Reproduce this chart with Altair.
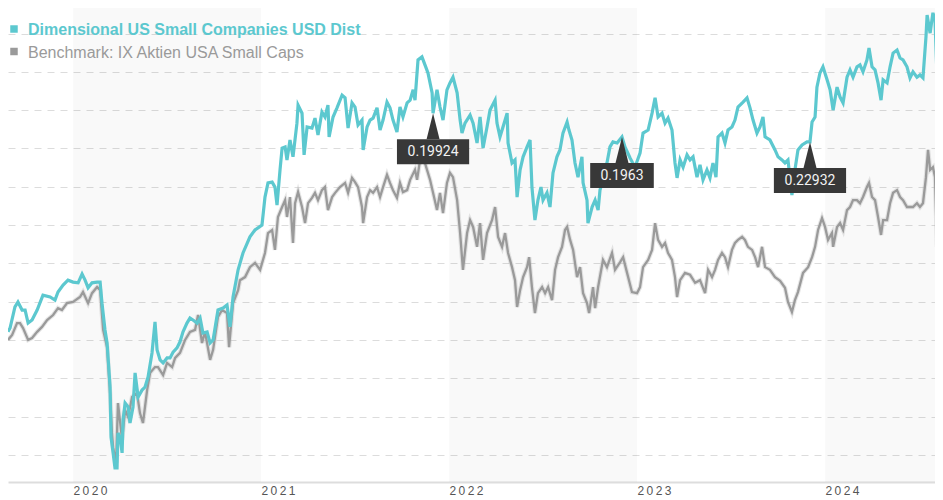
import altair as alt
import pandas as pd

fund_name = "Dimensional US Small Companies USD Dist"
bench_name = "Benchmark: IX Aktien USA Small Caps"
series_names = [fund_name, bench_name]
series_colors = ["#5cc8cf", "#9a9a9a"]

fund_t = [
    2019.654, 2019.665, 2019.691, 2019.707, 2019.729, 2019.745, 2019.761, 2019.782, 2019.809, 2019.840,
    2019.878, 2019.904, 2019.920, 2019.947, 2019.973, 2020.000, 2020.027, 2020.048, 2020.064, 2020.080,
    2020.101, 2020.128, 2020.144, 2020.154, 2020.170, 2020.181, 2020.197, 2020.202, 2020.213, 2020.223,
    2020.234, 2020.239, 2020.250, 2020.261, 2020.266, 2020.277, 2020.293, 2020.303, 2020.319, 2020.330,
    2020.346, 2020.367, 2020.383, 2020.399, 2020.420, 2020.436, 2020.447, 2020.463, 2020.479, 2020.500,
    2020.516, 2020.532, 2020.553, 2020.569, 2020.585, 2020.606, 2020.622, 2020.638, 2020.660, 2020.676,
    2020.691, 2020.713, 2020.729, 2020.745, 2020.771, 2020.798, 2020.819, 2020.835, 2020.851, 2020.878,
    2020.904, 2020.941, 2020.968, 2021.005, 2021.021, 2021.037, 2021.059, 2021.074, 2021.085, 2021.101,
    2021.112, 2021.128, 2021.138, 2021.154, 2021.170, 2021.191, 2021.197, 2021.218, 2021.229, 2021.245,
    2021.271, 2021.287, 2021.303, 2021.324, 2021.340, 2021.356, 2021.362, 2021.383, 2021.404, 2021.431,
    2021.447, 2021.463, 2021.484, 2021.500, 2021.516, 2021.537, 2021.543, 2021.564, 2021.580, 2021.596,
    2021.617, 2021.633, 2021.649, 2021.670, 2021.686, 2021.702, 2021.723, 2021.739, 2021.755, 2021.777,
    2021.793, 2021.809, 2021.819, 2021.835, 2021.856, 2021.872, 2021.888, 2021.910, 2021.915, 2021.936,
    2021.952, 2021.968, 2021.989, 2022.005, 2022.021, 2022.043, 2022.059, 2022.069, 2022.085, 2022.112,
    2022.128, 2022.149, 2022.165, 2022.181, 2022.202, 2022.218, 2022.245, 2022.255, 2022.271, 2022.287,
    2022.309, 2022.314, 2022.335, 2022.351, 2022.362, 2022.378, 2022.394, 2022.415, 2022.431, 2022.441,
    2022.457, 2022.473, 2022.489, 2022.500, 2022.521, 2022.537, 2022.553, 2022.574, 2022.590, 2022.606,
    2022.628, 2022.638, 2022.654, 2022.670, 2022.686, 2022.707, 2022.713, 2022.734, 2022.739, 2022.761,
    2022.777, 2022.793, 2022.803, 2022.819, 2022.840, 2022.856, 2022.872, 2022.894, 2022.920, 2022.936,
    2022.963, 2022.989, 2023.016, 2023.032, 2023.059, 2023.080, 2023.096, 2023.112, 2023.133, 2023.149,
    2023.165, 2023.186, 2023.202, 2023.213, 2023.229, 2023.245, 2023.266, 2023.282, 2023.298, 2023.319,
    2023.335, 2023.351, 2023.372, 2023.388, 2023.404, 2023.420, 2023.431, 2023.452, 2023.468, 2023.484,
    2023.505, 2023.521, 2023.537, 2023.564, 2023.585, 2023.601, 2023.617, 2023.638, 2023.654, 2023.670,
    2023.681, 2023.707, 2023.734, 2023.750, 2023.771, 2023.787, 2023.803, 2023.824, 2023.840, 2023.856,
    2023.878, 2023.904, 2023.920, 2023.931, 2023.947, 2023.957, 2023.973, 2023.989, 2024.011, 2024.027,
    2024.043, 2024.064, 2024.080, 2024.096, 2024.117, 2024.133, 2024.149, 2024.170, 2024.186, 2024.202,
    2024.223, 2024.234, 2024.250, 2024.266, 2024.282, 2024.298, 2024.309, 2024.330, 2024.346, 2024.362,
    2024.383, 2024.399, 2024.415, 2024.436, 2024.452, 2024.468, 2024.489, 2024.505, 2024.521, 2024.537,
    2024.543, 2024.559, 2024.574, 2024.585, 2024.596, 2024.612, 2024.628,
]
fund_v = [
    92.1, 93.1, 98.6, 99.9, 97.8, 97.8, 94.4, 95.2, 97.8, 101.7,
    101.2, 100.4, 102.5, 104.3, 105.6, 105.1, 104.9, 107.2, 105.6, 103.6,
    104.9, 105.1, 105.1, 99.6, 92.6, 89.2, 77.7, 64.6, 60.5, 56.6,
    56.6, 65.7, 64.6, 60.5, 69.1, 73.5, 72.5, 68.3, 72.5, 81.4,
    75.1, 76.9, 77.7, 80.3, 86.6, 94.7, 87.4, 84.8, 84.0, 85.3,
    85.3, 86.8, 87.9, 89.5, 92.1, 94.4, 95.7, 95.2, 94.4, 95.7,
    91.8, 92.1, 89.2, 90.0, 97.8, 98.3, 99.1, 93.4, 101.2, 108.3,
    112.7, 116.9, 118.7, 120.0, 127.3, 131.0, 131.2, 129.9, 125.2, 134.4,
    140.1, 140.4, 137.0, 142.2, 137.8, 146.6, 151.3, 149.2, 138.3, 145.6,
    145.3, 147.9, 143.5, 149.5, 148.2, 151.3, 143.0, 148.2, 150.6, 153.9,
    153.2, 145.3, 151.9, 150.8, 146.1, 147.4, 139.6, 145.6, 147.4, 147.9,
    150.6, 144.8, 147.4, 152.1, 150.6, 147.4, 144.3, 150.8, 148.2, 151.9,
    152.6, 155.3, 152.6, 163.1, 163.9, 161.8, 159.7, 154.5, 149.2, 155.3,
    150.8, 147.4, 155.3, 157.1, 158.6, 154.5, 147.4, 144.0, 146.6, 148.7,
    146.6, 141.4, 148.2, 140.1, 145.6, 150.0, 152.6, 146.6, 143.0, 145.6,
    149.2, 141.4, 136.2, 137.0, 127.3, 134.4, 137.8, 140.4, 142.2, 129.9,
    121.3, 126.5, 129.9, 126.5, 128.4, 124.7, 133.6, 137.8, 139.6, 144.0,
    146.9, 144.8, 142.2, 136.2, 132.5, 137.8, 131.0, 126.5, 120.5, 124.7,
    126.5, 123.9, 129.1, 131.8, 136.2, 140.4, 141.7, 141.4, 143.0, 140.4,
    137.5, 135.1, 138.8, 144.0, 144.8, 149.2, 153.2, 148.2, 149.2, 146.6,
    147.9, 144.8, 136.2, 132.3, 137.0, 135.1, 138.3, 137.0, 137.8, 132.5,
    135.7, 131.8, 134.4, 132.3, 136.2, 132.5, 143.0, 144.0, 141.4, 144.8,
    145.6, 147.4, 150.8, 152.1, 153.2, 150.6, 147.4, 144.0, 145.6, 148.2,
    143.0, 142.2, 139.6, 137.8, 137.0, 136.2, 137.0, 127.8, 134.4, 139.6,
    140.9, 141.7, 141.7, 146.9, 148.2, 156.0, 159.7, 161.3, 157.9, 155.3,
    150.0, 156.0, 153.4, 151.9, 158.6, 160.5, 158.6, 161.3, 161.8, 160.0,
    163.1, 166.2, 161.3, 160.5, 157.1, 152.6, 157.9, 157.1, 161.3, 164.9,
    165.7, 163.6, 163.1, 161.3, 158.4, 160.0, 158.6, 159.2, 158.4, 169.1,
    174.8, 170.1, 175.4, 173.5, 158.6, 163.1, 161.3,
]

bench_t = [
    2019.654, 2019.676, 2019.702, 2019.718, 2019.734, 2019.761, 2019.782, 2019.809, 2019.835, 2019.862,
    2019.894, 2019.920, 2019.941, 2019.968, 2020.000, 2020.037, 2020.053, 2020.080, 2020.101, 2020.128,
    2020.144, 2020.160, 2020.181, 2020.197, 2020.207, 2020.213, 2020.229, 2020.239, 2020.261, 2020.277,
    2020.293, 2020.314, 2020.340, 2020.356, 2020.372, 2020.394, 2020.410, 2020.436, 2020.452, 2020.479,
    2020.500, 2020.527, 2020.543, 2020.569, 2020.596, 2020.622, 2020.649, 2020.665, 2020.686, 2020.702,
    2020.729, 2020.745, 2020.771, 2020.793, 2020.819, 2020.830, 2020.851, 2020.878, 2020.888, 2020.915,
    2020.941, 2020.968, 2020.995, 2021.021, 2021.037, 2021.059, 2021.074, 2021.090, 2021.112, 2021.128,
    2021.138, 2021.154, 2021.170, 2021.181, 2021.197, 2021.218, 2021.234, 2021.250, 2021.271, 2021.287,
    2021.303, 2021.324, 2021.340, 2021.356, 2021.378, 2021.394, 2021.420, 2021.447, 2021.463, 2021.484,
    2021.500, 2021.516, 2021.537, 2021.543, 2021.564, 2021.580, 2021.596, 2021.617, 2021.633, 2021.649,
    2021.670, 2021.686, 2021.702, 2021.723, 2021.739, 2021.755, 2021.777, 2021.793, 2021.819, 2021.830,
    2021.846, 2021.862, 2021.883, 2021.899, 2021.915, 2021.936, 2021.952, 2021.968, 2021.989, 2022.005,
    2022.021, 2022.043, 2022.059, 2022.074, 2022.096, 2022.112, 2022.128, 2022.149, 2022.165, 2022.181,
    2022.202, 2022.229, 2022.245, 2022.261, 2022.282, 2022.298, 2022.314, 2022.335, 2022.351, 2022.362,
    2022.378, 2022.394, 2022.415, 2022.426, 2022.441, 2022.457, 2022.473, 2022.495, 2022.511, 2022.527,
    2022.548, 2022.564, 2022.580, 2022.601, 2022.617, 2022.628, 2022.644, 2022.660, 2022.681, 2022.697,
    2022.713, 2022.734, 2022.745, 2022.766, 2022.777, 2022.793, 2022.819, 2022.840, 2022.867, 2022.883,
    2022.910, 2022.926, 2022.947, 2022.973, 2023.000, 2023.016, 2023.032, 2023.059, 2023.080, 2023.096,
    2023.112, 2023.133, 2023.149, 2023.165, 2023.186, 2023.202, 2023.213, 2023.229, 2023.255, 2023.282,
    2023.309, 2023.335, 2023.362, 2023.378, 2023.399, 2023.415, 2023.431, 2023.452, 2023.468, 2023.484,
    2023.505, 2023.521, 2023.537, 2023.559, 2023.574, 2023.590, 2023.612, 2023.628, 2023.644, 2023.665,
    2023.681, 2023.707, 2023.734, 2023.761, 2023.787, 2023.803, 2023.824, 2023.840, 2023.856, 2023.883,
    2023.910, 2023.931, 2023.947, 2023.963, 2023.984, 2024.000, 2024.016, 2024.037, 2024.043, 2024.064,
    2024.080, 2024.096, 2024.117, 2024.133, 2024.149, 2024.170, 2024.186, 2024.202, 2024.223, 2024.234,
    2024.250, 2024.266, 2024.282, 2024.298, 2024.309, 2024.330, 2024.346, 2024.362, 2024.383, 2024.399,
    2024.415, 2024.436, 2024.452, 2024.468, 2024.489, 2024.505, 2024.521, 2024.537, 2024.548, 2024.559,
    2024.574, 2024.585, 2024.596, 2024.612, 2024.628,
]
bench_v = [
    90.0, 91.3, 94.4, 94.4, 93.1, 90.0, 90.5, 92.1, 93.4, 95.2,
    96.5, 98.3, 97.8, 99.6, 99.9, 101.2, 102.5, 99.6, 102.2, 103.8,
    103.0, 92.6, 88.1, 76.1, 65.7, 62.0, 57.9, 73.5, 63.9, 71.7,
    69.9, 75.1, 76.1, 70.9, 68.3, 76.9, 81.4, 82.9, 82.9, 80.8,
    84.0, 82.9, 85.3, 86.6, 90.0, 92.1, 92.6, 96.5, 89.2, 92.1,
    84.8, 87.4, 96.0, 97.8, 97.0, 88.1, 99.6, 103.0, 105.6, 106.4,
    109.0, 110.1, 108.3, 112.7, 117.9, 118.7, 113.5, 122.1, 124.7, 126.5,
    122.1, 127.3, 115.3, 125.7, 128.6, 124.7, 120.5, 125.7, 127.1, 128.4,
    126.5, 129.1, 129.9, 123.9, 127.3, 128.4, 129.9, 131.0, 128.4, 132.3,
    131.2, 129.9, 124.7, 120.5, 127.3, 129.1, 128.4, 129.9, 127.3, 129.9,
    133.1, 131.0, 129.1, 127.1, 131.0, 128.6, 129.1, 131.8, 134.4, 131.8,
    137.0, 137.8, 134.4, 131.8, 128.4, 123.9, 128.4, 123.1, 131.0, 133.6,
    132.5, 126.5, 117.9, 108.3, 117.9, 121.3, 119.5, 114.3, 120.5, 110.9,
    117.9, 121.3, 124.7, 116.9, 114.3, 117.9, 112.7, 109.0, 105.6, 98.6,
    103.0, 106.4, 109.0, 111.6, 103.8, 97.0, 102.2, 103.8, 102.2, 103.8,
    100.4, 108.3, 111.6, 114.3, 118.7, 119.5, 116.1, 113.5, 106.4, 109.0,
    102.2, 99.6, 97.0, 103.8, 98.3, 103.8, 110.9, 109.0, 112.7, 108.3,
    110.3, 111.6, 107.5, 102.5, 102.2, 103.8, 109.0, 110.9, 113.5, 120.5,
    116.1, 114.3, 115.3, 112.7, 110.9, 106.4, 101.2, 105.6, 107.5, 107.0,
    104.9, 105.6, 102.2, 108.3, 106.4, 108.3, 110.9, 112.7, 111.6, 109.0,
    113.5, 115.3, 116.1, 116.9, 116.1, 114.3, 113.5, 111.6, 109.0, 114.3,
    109.0, 108.3, 106.4, 105.4, 103.6, 99.9, 97.3, 100.4, 102.5, 107.5,
    109.0, 111.6, 114.3, 118.7, 121.8, 119.5, 116.1, 117.9, 114.3, 119.5,
    120.5, 118.7, 123.9, 124.7, 126.5, 126.5, 125.7, 127.3, 129.9, 131.0,
    127.3, 126.5, 122.1, 117.4, 121.3, 121.3, 125.7, 128.4, 129.1, 127.3,
    126.5, 124.7, 124.7, 124.7, 125.7, 124.7, 125.7, 132.5, 139.6, 134.4,
    135.1, 132.5, 114.3, 124.7, 127.3,
]

year_ticks = [2020, 2021, 2022, 2023, 2024]
shade_start = [2020, 2022, 2024]
shade_end = [2021, 2023, 2025]
grid_values = [60, 70, 80, 90, 100, 110, 120, 130, 140, 150, 160, 170]

note_t = [2021.915, 2022.920, 2023.920]
note_v = [149.2, 143.0, 141.7]
note_labels = ["0.19924", "0.1963", "0.22932"]

# visible window: the page is 943 px wide, the plot keeps 188 px per year
x_domain = [2019.654, 2024.585]
y_domain = [52.9, 176.66]

W, H = 927, 474
BOX = "#383838"

lines_df = pd.concat(
    [
        pd.DataFrame({"t": bench_t, "v": bench_v, "series": bench_name}),
        pd.DataFrame({"t": fund_t, "v": fund_v, "series": fund_name}),
    ],
    ignore_index=True,
)
bands_df = pd.DataFrame({"start": shade_start, "end": shade_end})
notes_df = pd.DataFrame({"t": note_t, "v": note_v, "label": note_labels})
legend_df = pd.DataFrame({"series": series_names})

x_scale = alt.Scale(domain=x_domain, nice=False, zero=False)
y_scale = alt.Scale(domain=y_domain, nice=False, zero=False)
color_scale = alt.Scale(domain=series_names, range=series_colors)

x_axis = alt.Axis(
    values=year_ticks, format="d", labelAlign="left", labelFlush=False,
    labelExpr="join(split(datum.label, ''), '\u2009')",
    ticks=False, grid=False, domain=True, domainColor="#dddddd", domainWidth=2,
    labelColor="#555555", labelFont="Liberation Sans", labelFontSize=12,
    labelPadding=3, title=None,
)
y_axis = alt.Axis(
    values=grid_values, labels=False, ticks=False, domain=False, title=None,
    grid=True, gridColor="#dcdcdc", gridDash=[7, 6], gridWidth=1,
)

X = alt.X("t:Q", scale=x_scale, axis=x_axis)
Y = alt.Y("v:Q", scale=y_scale, axis=y_axis)

bands = alt.Chart(bands_df).mark_rect(color="#000000", opacity=0.025, clip=True).encode(
    x=alt.X("start:Q", scale=x_scale, axis=x_axis),
    x2="end:Q",
    y=alt.value(0),
    y2=alt.value(H),
)

halo = alt.Chart(lines_df).transform_filter(alt.datum.series == bench_name).mark_line(
    color="#b8b8b8", strokeWidth=4.5, opacity=0.35, clip=True
).encode(x=X, y=Y)

bench_line = alt.Chart(lines_df).transform_filter(alt.datum.series == bench_name).mark_line(
    strokeWidth=2.3, clip=True
).encode(x=X, y=Y, color=alt.Color("series:N", scale=color_scale, legend=None))

fund_line = alt.Chart(lines_df).transform_filter(alt.datum.series == fund_name).mark_line(
    strokeWidth=3.2, clip=True
).encode(x=X, y=Y, color=alt.Color("series:N", scale=color_scale, legend=None))

pointer = alt.Chart(notes_df).mark_point(
    shape="M0,-1L0.5,1L-0.5,1Z", size=676, filled=True, opacity=1, color=BOX, yOffset=13
).encode(x=X, y=Y)

box = alt.Chart(notes_df).mark_rect(
    color=BOX, height=25, width=alt.ExprRef(expr="length(datum.label)*8.6+12"), yOffset=38.5
).encode(x=X, y=Y)

note_txt = alt.Chart(notes_df).mark_text(
    font="Roboto", fontSize=14, color="#f2f2f2", align="center", baseline="middle", yOffset=39
).encode(x=X, y=Y, text="label:N")

leg_fund_sq = alt.Chart(legend_df).transform_filter(alt.datum.series == fund_name).mark_square(
    size=56, opacity=1
).encode(x=alt.value(6), y=alt.value(21), color=alt.Color("series:N", scale=color_scale, legend=None))
leg_fund_tx = alt.Chart(legend_df).transform_filter(alt.datum.series == fund_name).mark_text(
    align="left", baseline="alphabetic", fontSize=16, fontWeight="bold", font="Liberation Sans"
).encode(x=alt.value(20), y=alt.value(26.5), text="series:N",
         color=alt.Color("series:N", scale=color_scale, legend=None))
leg_bench_sq = alt.Chart(legend_df).transform_filter(alt.datum.series == bench_name).mark_square(
    size=56, opacity=1
).encode(x=alt.value(6), y=alt.value(43.5), color=alt.Color("series:N", scale=color_scale, legend=None))
leg_bench_tx = alt.Chart(legend_df).transform_filter(alt.datum.series == bench_name).mark_text(
    align="left", baseline="alphabetic", fontSize=16, font="Liberation Sans"
).encode(x=alt.value(20), y=alt.value(49.5), text="series:N",
         color=alt.Color("series:N", scale=color_scale, legend=None))

chart = alt.layer(
    bands, halo, bench_line, fund_line, pointer, box, note_txt,
    leg_fund_sq, leg_fund_tx, leg_bench_sq, leg_bench_tx,
).properties(width=W, height=H, padding=0).configure_view(stroke=None)

chart.save("out.html", embed_options={"renderer": "svg", "actions": False})
